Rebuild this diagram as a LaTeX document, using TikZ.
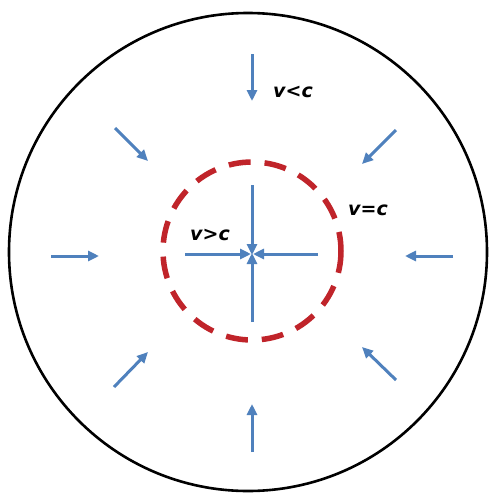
\documentclass[tikz,border=0pt]{standalone}
\usepackage{fontspec}
\setmainfont{DejaVu Sans}
\usetikzlibrary{arrows.meta}
\definecolor{flowblue}{RGB}{79,129,189}
\definecolor{ringred}{RGB}{192,36,42}
\tikzset{
  flow/.style={draw=flowblue, line width=3pt, -{Triangle[length=11pt,width=10pt]}},
  lbl/.style={font=\fontsize{19}{21}\selectfont\bfseries\itshape, inner sep=0pt, text=black}
}
\begin{document}
\begin{tikzpicture}[x=1pt,y=-1pt]
\useasboundingbox (0,0) rectangle (490,496);
\fill[white] (0,0) rectangle (490,496);
% outer boundary
\draw[line width=2.6pt] (248,252) circle[radius=239];
% critical surface
\draw[ringred, line width=5.5pt, dash pattern=on 22pt off 14pt] (252,251) circle[radius=89];
% centre
\coordinate (c) at (252,254);
% inner arrow tails
\coordinate (il) at (185,254);
\coordinate (ir) at (318,254);
\coordinate (it) at (252,185);
\coordinate (ib) at (252,322);
\draw[flow] (il) -- ([xshift=-1pt]c);
\draw[flow] (ir) -- ([xshift=1pt]c);
\draw[flow] (it) -- ([yshift=-1pt]c);
\draw[flow] (ib) -- ([yshift=1pt]c);
% outer arrows
\coordinate (t1) at (252,54);  \coordinate (t2) at (252,101);
\coordinate (b1) at (252,452); \coordinate (b2) at (252,404);
\coordinate (l1) at (51,256);  \coordinate (l2) at (99,256);
\coordinate (r1) at (453,256); \coordinate (r2) at (405,256);
\coordinate (tl1) at (115,128); \coordinate (tl2) at (148,161);
\coordinate (tr1) at (396,130); \coordinate (tr2) at (362,164);
\coordinate (bl1) at (114,387); \coordinate (bl2) at (148,352);
\coordinate (br1) at (396,380); \coordinate (br2) at (362,347);
\foreach \a in {t,b,l,r,tl,tr,bl,br} {\draw[flow] (\a1) -- (\a2);}
% labels
\node[lbl] (vlt) at (293,92) {v<c};
\node[lbl] (veq) at (368,210) {v=c};
\node[lbl] (vgt) at (210,235) {v>c};
\end{tikzpicture}
\end{document}
